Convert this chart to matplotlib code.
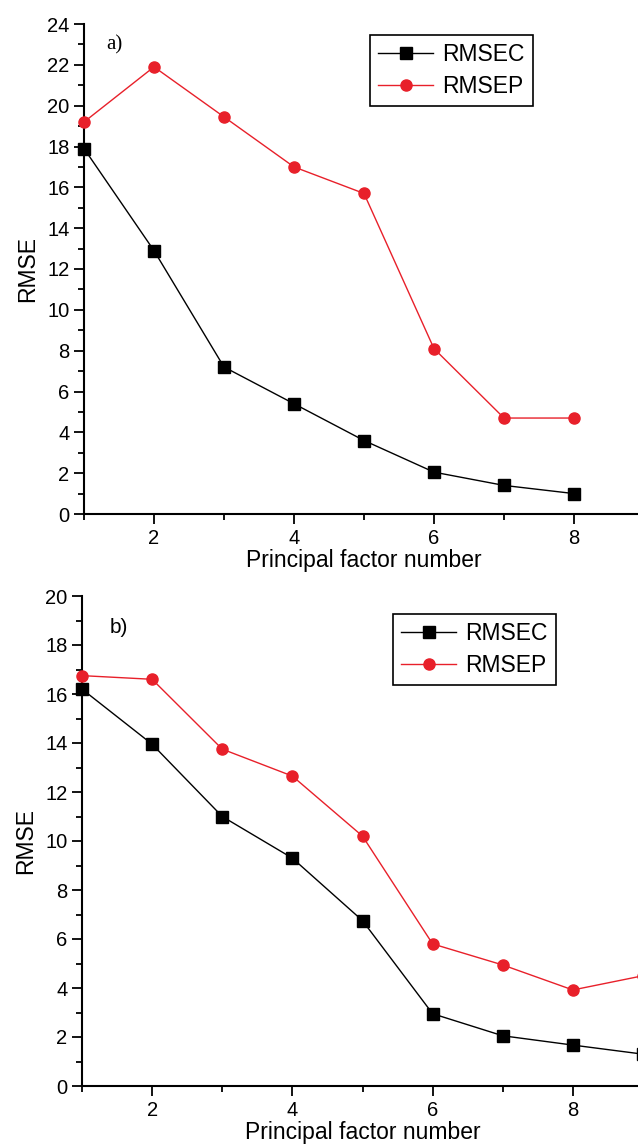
import matplotlib
matplotlib.use("Agg")
import matplotlib.pyplot as plt
from matplotlib.ticker import MultipleLocator

plt.rcParams['font.family'] = ['Liberation Sans', 'DejaVu Sans']

# Data
factors_a = [1, 2, 3, 4, 5, 6, 7, 8]
rmsec_a = [17.9, 12.9, 7.2, 5.4, 3.6, 2.05, 1.4, 1.0]
rmsep_a = [19.2, 21.9, 19.45, 17.0, 15.7, 8.1, 4.7, 4.7]

factors_b = [1, 2, 3, 4, 5, 6, 7, 8, 9]
rmsec_b = [16.2, 13.95, 11.0, 9.3, 6.75, 2.95, 2.05, 1.67, 1.3]
rmsep_b = [16.75, 16.6, 13.75, 12.65, 10.2, 5.8, 4.94, 3.92, 4.5]

fig = plt.figure(figsize=(6.38, 11.46), dpi=100)
ax1 = fig.add_axes([84 / 638, 632 / 1146, 560 / 638, 490 / 1146])
ax2 = fig.add_axes([82 / 638, 60 / 1146, 561 / 638, 490 / 1146])


def draw(ax, x, c, p, ymax, tag, tag_pos, tag_font, leg_anchor):
    ax.plot(x, c, color='black', lw=1, marker='s', ms=8, label='RMSEC', clip_on=False, zorder=3)
    ax.plot(x, p, color='#e8202a', lw=1, marker='o', ms=8, label='RMSEP', clip_on=False, zorder=3)
    ax.set_xlim(1, 9)
    ax.set_ylim(0, ymax)
    ax.xaxis.set_major_locator(MultipleLocator(2))
    ax.xaxis.set_minor_locator(MultipleLocator(1))
    ax.yaxis.set_major_locator(MultipleLocator(2))
    ax.yaxis.set_minor_locator(MultipleLocator(1))
    ax.tick_params(which='major', direction='out', length=7, width=1.3, labelsize=14.5)
    ax.tick_params(which='minor', direction='out', length=4, width=1.3)
    ax.spines['top'].set_visible(False)
    ax.spines['right'].set_visible(False)
    for s in ('left', 'bottom'):
        ax.spines[s].set_linewidth(1.5)
    ax.set_xlabel('Principal factor number', fontsize=16.5, labelpad=1)
    ax.set_ylabel('RMSE', fontsize=16.5, labelpad=6)
    ax.text(tag_pos[0], tag_pos[1], tag, transform=ax.transAxes, fontsize=15,
            family=tag_font, ha='left', va='center')
    leg = ax.legend(loc='upper left', bbox_to_anchor=leg_anchor, fontsize=16.5,
                    fancybox=False, framealpha=1, edgecolor='black',
                    handlelength=2.4, borderpad=0.35, labelspacing=0.4,
                    handletextpad=0.4, borderaxespad=0)
    leg.get_frame().set_linewidth(1.2)


draw(ax1, factors_a, rmsec_a, rmsep_a, 24, 'a)', (0.04, 0.957), ['Liberation Serif'],
     ((370 - 84) / 560, (514 - 35) / 490))
draw(ax2, factors_b, rmsec_b, rmsep_b, 20, 'b)', (0.05, 0.935), ['Liberation Sans'],
     ((393 - 82) / 561, (1086 - 614) / 490))

fig.savefig('out.png', dpi=100)
